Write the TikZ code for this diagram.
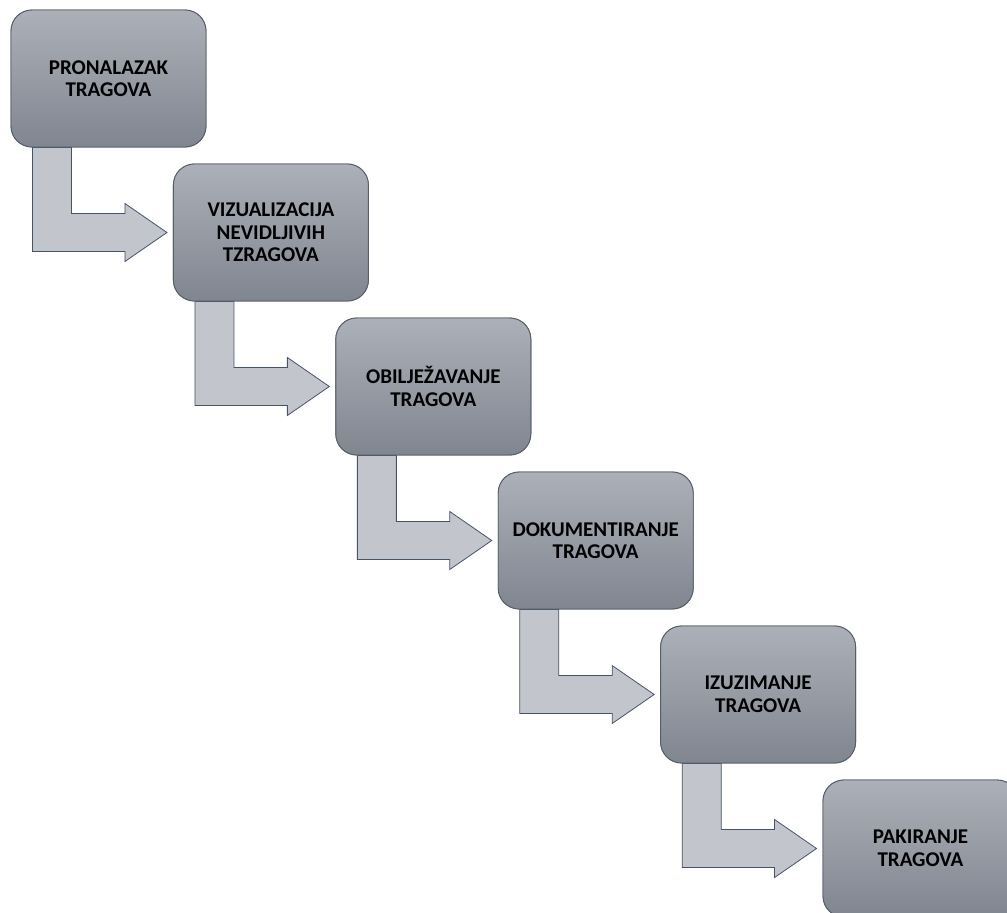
\documentclass[tikz,border=0pt]{standalone}
\usepackage{fontspec}
\setmainfont{Carlito}
\usetikzlibrary{calc}
\definecolor{boxtop}{RGB}{172,176,184}
\definecolor{boxbot}{RGB}{128,134,144}
\definecolor{boxline}{RGB}{88,94,104}
\definecolor{arrfill}{RGB}{194,197,203}
\definecolor{arrline}{RGB}{70,84,104}
\tikzset{
  stepbox/.style={rectangle, rounded corners=21pt, minimum width=195pt, minimum height=137pt,
    top color=boxtop, bottom color=boxbot, draw=boxline, line width=0.9pt,
    align=center, inner sep=0pt, text width=190pt,
    font=\bfseries\fontsize{21}{22.5}\selectfont},
  bentarrow/.style={fill=arrfill, draw=arrline, line width=0.8pt, line join=miter}
}
\newcommand{\bentarr}[2]{%
  \draw[bentarrow] let \p1=(#1.south west), \p2=(#2.west) in
    (\x1+22pt,\y1) -- (\x1+61pt,\y1) -- (\x1+61pt,\y2+19pt) -- (\x2-48pt,\y2+19pt)
    -- (\x2-48pt,\y2+29pt) -- (\x2-6pt,\y2) -- (\x2-48pt,\y2-29pt) -- (\x2-48pt,\y2-19pt)
    -- (\x1+22pt,\y2-19pt) -- cycle;}
\begin{document}
\begin{tikzpicture}[x=1pt,y=-1pt]
\useasboundingbox (0,0) rectangle (1007,913);
\clip (0,0) rectangle (1007,913);
% placement first so the arrows can be drawn by node names
\path
  (108.5,78.5)  node[stepbox] (b1) {PRONALAZAK\\TRAGOVA}
  (270.9,232.5) node[stepbox] (b2) {VIZUALIZACIJA\\NEVIDLJIVIH\\TZRAGOVA}
  (433.3,386.5) node[stepbox] (b3) {OBILJEŽAVANJE\\TRAGOVA}
  (595.7,540.5) node[stepbox] (b4) {DOKUMENTIRANJE\\TRAGOVA}
  (758.1,694.5) node[stepbox] (b5) {IZUZIMANJE\\TRAGOVA}
  (920.5,848.5) node[stepbox] (b6) {PAKIRANJE\\TRAGOVA};
\bentarr{b1}{b2}
\bentarr{b2}{b3}
\bentarr{b3}{b4}
\bentarr{b4}{b5}
\bentarr{b5}{b6}
% boxes again, on top of the arrow stems
\path
  (108.5,78.5)  node[stepbox] {PRONALAZAK\\TRAGOVA}
  (270.9,232.5) node[stepbox] {VIZUALIZACIJA\\NEVIDLJIVIH\\TZRAGOVA}
  (433.3,386.5) node[stepbox] {OBILJEŽAVANJE\\TRAGOVA}
  (595.7,540.5) node[stepbox] {DOKUMENTIRANJE\\TRAGOVA}
  (758.1,694.5) node[stepbox] {IZUZIMANJE\\TRAGOVA}
  (920.5,848.5) node[stepbox] {PAKIRANJE\\TRAGOVA};
\end{tikzpicture}
\end{document}
